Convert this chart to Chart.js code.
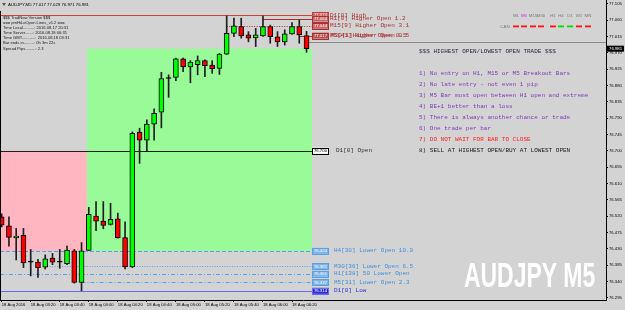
<!DOCTYPE html>
<html><head><meta charset="utf-8">
<script src="https://cdn.jsdelivr.net/npm/chart.js@4.4.0/dist/chart.umd.min.js"></script>
<style>html,body{margin:0;padding:0;background:#d3d3d3;overflow:hidden}canvas{display:block}</style>
</head><body>
<canvas id="c" width="625" height="310"></canvas>
<script>
// ---------- data ----------
const symbol = 'AUDJPY';
const timeframe = 'M5';
const barTimes = ['03:00','03:05','03:10','03:15','03:20','03:25','03:30','03:35','03:40','03:45','03:50','03:55',
  '04:00','04:05','04:10','04:15','04:20','04:25','04:30','04:35','04:40','04:45','04:50','04:55',
  '05:00','05:05','05:10','05:15','05:20','05:25','05:30','05:35','05:40','05:45','05:50','05:55',
  '06:00','06:05','06:10','06:15','06:20','06:25','06:30'];
const opens  = [76.518,76.493,76.460,76.467,76.393,76.393,76.379,76.404,76.393,76.389,76.424,76.337,
  76.425,76.520,76.506,76.497,76.512,76.461,76.380,76.751,76.729,76.773,76.806,76.899,
  76.902,76.953,76.931,76.937,76.948,76.936,76.927,76.966,77.023,77.042,77.019,77.011,
  77.016,77.042,77.014,77.000,77.022,77.042,77.017];
const highs  = [76.526,76.518,76.486,76.486,76.428,76.401,76.413,76.417,76.428,76.437,76.428,76.447,
  76.544,76.560,76.560,76.555,76.528,76.504,76.752,76.762,76.785,76.815,76.916,76.909,
  76.955,76.955,76.948,76.961,76.950,76.948,76.968,77.071,77.065,77.065,77.028,77.037,
  77.071,77.046,77.028,77.033,77.053,77.060,77.029];
const lows   = [76.490,76.437,76.399,76.378,76.355,76.351,76.374,76.386,76.376,76.386,76.335,76.314,
  76.425,76.480,76.485,76.495,76.459,76.374,76.378,76.665,76.699,76.729,76.763,76.847,
  76.893,76.918,76.887,76.909,76.904,76.913,76.910,76.965,77.014,77.010,77.000,76.987,
  77.015,76.996,76.987,76.991,77.020,76.996,76.971];
const closes = [76.495,76.461,76.465,76.391,76.393,76.378,76.402,76.393,76.393,76.426,76.337,76.424,
  76.525,76.506,76.494,76.511,76.460,76.380,76.748,76.729,76.773,76.803,76.899,76.899,
  76.953,76.931,76.944,76.948,76.934,76.926,76.966,77.023,77.044,77.016,77.010,77.019,
  77.042,77.014,77.000,77.022,77.042,77.019,76.981];
const xTickIndex  = [0,4,8,12,16,20,24,28,32,36,40];
const xTickLabels = ['18 Aug 2016','18 Aug 03:20','18 Aug 03:40','18 Aug 04:00','18 Aug 04:20','18 Aug 04:40',
  '18 Aug 05:00','18 Aug 05:20','18 Aug 05:40','18 Aug 06:00','18 Aug 06:20'];
const yTickValues = [77.105,77.060,77.015,76.970,76.925,76.880,76.835,76.790,76.745,76.700,
  76.655,76.610,76.565,76.520,76.475,76.430,76.385,76.340,76.295];
const askPrice = 76.999;

// level lines
const levelNames  = ['D1[0] High','H1[0] Higher Open 1.2','M15[9] Higher Open 3.1','M5[41] Higher Open 0.5',
  'D1[0] Open','H4[30] Lower Open 10.9','M30[36] Lower Open 6.5','H1[138] 50 Lower Open','M5[31] Lower Open 2.3','D1[0] Low'];
const levelPrices = [77.074,77.064,77.044,77.017,76.700,76.424,76.381,76.361,76.337,76.314];
const levelStartBar = [-2,36,31,41,-2,-2,6.6,-2,11,-2];
const overlapName = 'M30[1]Higher Open 0.5';
const labelBar = 42.75;

// zones
const zoneStartBar = [-2, 11.75];
const zoneEndBar   = [11.75, 42.75];
const zoneTop      = [76.700, 76.981];
const zoneBottom   = [76.424, 76.424];

// info block
const infoLines = ['$$$ TradNow Version $$$','=== pmHiLoOpen Lines_v1.2 ===',
  'Time Local..........: 2016.08.17 20:31','Time Server.......: 2016.08.18 06:31',
  'Time GMT............: 2016.08.18 03:31','Bar ends in.........: 0h 3m 22s','Spread Pips.........: 2.3'];
const rulesTitle = '$$$ HIGHEST OPEN/LOWEST OPEN TRADE $$$';
const rules = ['1) No entry on H1, M15 or M5 Breakout Bars','2) No late entry - not even 1 pip',
  '3) M5 Bar must open between H1 open and extreme','4) BE+1 better than a loss',
  '5) There is always another chance or trade','6) One trade per bar',
  '7) DO NOT WAIT FOR BAR TO CLOSE','8) SELL AT HIGHEST OPEN/BUY AT LOWEST OPEN'];
const mtfNames   = ['M1','M5','M15','M30','H1','H4','D1','W1','MN'];
const mtfSignals = [-1,-1,-1,-1,-1,1,1,-1,-1];

// ---------- styles ----------
const levelStyle = [
  {c:'#c84040', dash:[], box:'#c86464', bt:'#fff', tc:'#a83030', dx:18},
  {c:'#a83030', dash:[], box:'#c86464', bt:'#fff', tc:'#a83030', dx:18},
  {c:'#a83030', dash:[1,1.5], box:'#c86464', bt:'#fff', tc:'#a83030', dx:18},
  {c:'#a83030', dash:[], box:'#b85050', bt:'#fff', tc:'#a83030', dx:18},
  {c:'#202020', dash:[], box:'#ffffff', bt:'#000', tc:'#303030', dx:24},
  {c:'#5aa0e6', dash:[4,2], box:'#7fb2e5', bt:'#fff', tc:'#3f8fe0', dx:22},
  {c:'#5aa0e6', dash:[1,1.5], box:'#7fb2e5', bt:'#fff', tc:'#3f8fe0', dx:22},
  {c:'#5aa0e6', dash:[4,2,1,2], box:'#7fb2e5', bt:'#fff', tc:'#3f8fe0', dx:22},
  {c:'#5aa0e6', dash:[4,2,1,2], box:'#7fb2e5', bt:'#fff', tc:'#3f8fe0', dx:22},
  {c:'#6a6af0', dash:[], box:'#2e2ed8', bt:'#fff', tc:'#2f2fd0', dx:22}
];
const zoneColors = ['#ffb6c1', '#98fb98'];
const SANS = '"Liberation Sans", Arial, sans-serif';
const MONO = '"Liberation Mono", "Courier New", monospace';

const overlay = {
  id: 'overlay',
  beforeDatasetsDraw(chart) {
    const ctx = chart.ctx, xs = chart.scales.x, ys = chart.scales.y, ca = chart.chartArea;
    const X = v => xs.getPixelForValue(v), Y = v => ys.getPixelForValue(v);
    ctx.save();
    ctx.beginPath(); ctx.rect(ca.left, ca.top, ca.right - ca.left, ca.bottom - ca.top); ctx.clip();
    zoneStartBar.forEach((s, k) => {
      const x0 = X(s), x1 = X(zoneEndBar[k]), y0 = Y(zoneTop[k]), y1 = Y(zoneBottom[k]);
      ctx.fillStyle = zoneColors[k];
      ctx.fillRect(x0, y0, x1 - x0, y1 - y0);
    });
    levelPrices.forEach((p, k) => {
      const st = levelStyle[k];
      const y = Math.round(Y(p)) + 0.5;
      ctx.strokeStyle = st.c; ctx.lineWidth = 1; ctx.setLineDash(st.dash);
      ctx.beginPath(); ctx.moveTo(Math.max(X(levelStartBar[k]), ca.left), y); ctx.lineTo(X(labelBar), y); ctx.stroke();
    });
    ctx.setLineDash([]);
    const ya = Math.round(Y(askPrice)) + 0.5;
    ctx.strokeStyle = '#8a8a8a';
    ctx.beginPath(); ctx.moveTo(X(closes.length - 1), ya); ctx.lineTo(ca.right, ya); ctx.stroke();
    ctx.restore();
  },
  afterDraw(chart) {
    const ctx = chart.ctx, xs = chart.scales.x, ys = chart.scales.y, ca = chart.chartArea;
    const X = v => xs.getPixelForValue(v), Y = v => ys.getPixelForValue(v);
    ctx.save();
    ctx.textBaseline = 'middle';
    levelPrices.forEach((p, k) => {
      const st = levelStyle[k];
      const x0 = X(labelBar), y = Y(p);
      ctx.fillStyle = st.box; ctx.fillRect(x0, y - 3, 17, 6);
      ctx.strokeStyle = st.c === '#202020' ? '#000' : st.c; ctx.lineWidth = 1;
      ctx.strokeRect(Math.round(x0) + 0.5, Math.round(y - 3) + 0.5, 16, 6);
      ctx.fillStyle = st.bt; ctx.font = '4.3px ' + SANS; ctx.textAlign = 'center';
      ctx.fillText(p.toFixed(3), x0 + 8.5, y + 0.3);
      ctx.fillStyle = st.tc; ctx.font = '6px ' + MONO; ctx.textAlign = 'left';
      ctx.fillText(levelNames[k], x0 + st.dx, y);
      if (k === 3) ctx.fillText(overlapName, x0 + st.dx + 1, y);
    });
    const last = closes.length - 1;
    const yc = Y(closes[last]);
    ctx.fillStyle = '#000'; ctx.fillRect(ca.right + 1, yc - 3, 17, 6);
    ctx.fillStyle = '#fff'; ctx.font = '4.3px ' + SANS; ctx.textAlign = 'left';
    ctx.fillText(closes[last].toFixed(3), ca.right + 3, yc + 0.3);
    ctx.fillStyle = '#000'; ctx.font = '4.3px ' + SANS;
    ctx.fillText(symbol + ',' + timeframe + ' ' + opens[last].toFixed(3) + ' ' + highs[last].toFixed(3) + ' ' + lows[last].toFixed(3) + ' ' + closes[last].toFixed(3), 8, 4.5);
    ctx.fillStyle = '#555';
    ctx.beginPath(); ctx.moveTo(2, 3); ctx.lineTo(6, 3); ctx.lineTo(4, 6); ctx.closePath(); ctx.fill();
    ctx.fillStyle = '#202020'; ctx.font = '4.1px ' + SANS;
    infoLines.forEach((t, k) => ctx.fillText(t, 3, 17.5 + k * 5.15));
    ctx.font = '6px ' + MONO;
    ctx.fillStyle = '#2a2a3a';
    ctx.fillText(rulesTitle, 419, 51);
    rules.forEach((t, k) => {
      ctx.fillStyle = k < 6 ? '#7a3cb8' : (k === 6 ? '#ff2020' : '#1a1a1a');
      ctx.fillText(t, 419, 73.3 + k * 10.95);
    });
    const mx0 = 516, mstep = [0, 8, 17, 25, 37, 45, 54, 63, 72];
    ctx.font = '4.4px ' + SANS; ctx.textAlign = 'center';
    mtfNames.forEach((n, k) => {
      ctx.fillStyle = n === timeframe ? '#e020e0' : '#777';
      ctx.fillText(n, mx0 + mstep[k], 15.7);
      ctx.fillStyle = mtfSignals[k] > 0 ? '#00e000' : '#ff1010';
      ctx.fillRect(mx0 + mstep[k] - 3, 25.5, 6, 1.8);
    });
    ctx.fillStyle = '#777'; ctx.fillText('CAN', 505, 26.5);
    ctx.save();
    ctx.translate(464, 287);
    ctx.scale(0.655, 1);
    ctx.fillStyle = '#ffffff'; ctx.textAlign = 'left'; ctx.textBaseline = 'alphabetic';
    ctx.font = 'bold 35px ' + SANS;
    ctx.fillText(symbol + ' ' + timeframe, 0, 0);
    ctx.restore();
    ctx.strokeStyle = '#000'; ctx.lineWidth = 1;
    ctx.beginPath(); ctx.moveTo(0.5, 11); ctx.lineTo(0.5, ca.bottom); ctx.stroke();
    ctx.restore();
  }
};

Chart.defaults.font.family = SANS;
new Chart(document.getElementById('c'), {
  type: 'bar',
  data: {
    datasets: [
      {
        label: 'body',
        data: opens.map((o, i) => ({x: i, y: [o, closes[i]]})),
        backgroundColor: opens.map((o, i) => closes[i] > o ? '#00ff00' : (closes[i] < o ? '#ff0000' : '#000000')),
        borderColor: '#000', borderWidth: 1, borderSkipped: false,
        barThickness: 5, grouped: false, minBarLength: 1, order: 0
      },
      {
        label: 'wick',
        data: lows.map((l, i) => ({x: i, y: [l, highs[i]]})),
        backgroundColor: '#1e1e1e', borderWidth: 0,
        barThickness: 1, grouped: false, order: 1
      }
    ]
  },
  options: {
    responsive: false, animation: false, devicePixelRatio: 1,
    layout: {padding: 0},
    plugins: {legend: {display: false}, tooltip: {enabled: false}},
    scales: {
      x: {
        type: 'linear', position: 'bottom', min: -0.232, max: 83.26, bounds: 'data', offset: false,
        afterBuildTicks: s => { s.ticks = xTickIndex.map(v => ({value: v})); },
        afterFit: s => { s.height = 10; s.paddingLeft = 0; s.paddingRight = 0; s.paddingTop = 0; s.paddingBottom = 0; },
        ticks: {
          autoSkip: false, maxRotation: 0, minRotation: 0, align: 'start', padding: 0,
          font: {size: 4.2}, color: '#000',
          callback: (v, i) => xTickLabels[i]
        },
        grid: {display: true, drawOnChartArea: false, drawTicks: true, tickLength: 2, color: '#000', offset: false},
        border: {display: true, color: '#000', width: 1}
      },
      y: {
        type: 'linear', position: 'right', min: 76.2887, max: 77.11515, bounds: 'data',
        afterBuildTicks: s => { s.ticks = yTickValues.map(v => ({value: v})); },
        afterFit: s => { s.width = 19; s.paddingLeft = 0; s.paddingRight = 0; s.paddingTop = 0; s.paddingBottom = 0; },
        ticks: {
          autoSkip: false, padding: 1, font: {size: 4.2}, color: '#000',
          callback: v => Number(v).toFixed(3)
        },
        grid: {display: true, drawOnChartArea: false, drawTicks: true, tickLength: 2, color: '#000'},
        border: {display: true, color: '#000', width: 1}
      }
    }
  },
  plugins: [overlay]
});
</script>
</body></html>
